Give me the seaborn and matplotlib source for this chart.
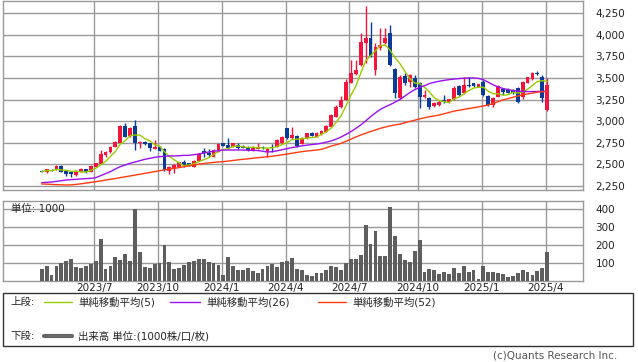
import numpy as np
import pandas as pd
import matplotlib
matplotlib.use("Agg")
from matplotlib import pyplot as plt
from matplotlib.patches import Rectangle
from matplotlib.lines import Line2D
from matplotlib.ticker import FuncFormatter
import seaborn as sns

# weekly candles, 2023/4 - 2025/4
dates = pd.date_range("2023-04-17", periods=104, freq="W-MON")

opens = [2420, 2405, 2432, 2432, 2482, 2424, 2410, 2374, 2413, 2440,
         2413, 2471, 2502, 2606, 2637, 2703, 2749, 2943, 2827, 2943,
         2741, 2761, 2741, 2676, 2703, 2676, 2424, 2451, 2471, 2521,
         2510, 2471, 2540, 2656, 2625, 2587, 2645, 2741, 2722, 2703,
         2722, 2711, 2703, 2656, 2676, 2703, 2637, 2703, 2703, 2741,
         2916, 2800, 2830, 2734, 2800, 2858, 2819, 2846, 2877, 2935,
         3051, 3159, 3244, 3445, 3546, 3650, 3902, 3960, 3592, 3844,
         3902, 4018, 3600, 3264, 3523, 3457, 3500, 3438, 3275, 3264,
         3175, 3186, 3244, 3225, 3252, 3407, 3322, 3418, 3438, 3399,
         3457, 3294, 3186, 3283, 3368, 3360, 3360, 3380, 3283, 3445,
         3484, 3561, 3515, 3128]
highs = [2428, 2448, 2440, 2488, 2486, 2430, 2418, 2428, 2450, 2448,
         2488, 2515, 2664, 2656, 2712, 2770, 2950, 2981, 2930, 3012,
         2770, 2770, 2748, 2780, 2712, 2685, 2478, 2498, 2530, 2548,
         2518, 2548, 2630, 2683, 2672, 2672, 2740, 2750, 2807, 2750,
         2750, 2725, 2712, 2712, 2741, 2712, 2683, 2734, 2790, 2830,
         2925, 2935, 2840, 2810, 2865, 2877, 2872, 2892, 2950, 3078,
         3185, 3290, 3484, 3708, 3708, 4018, 4335, 4153, 3900, 4076,
         4076, 4114, 3610, 3530, 3560, 3545, 3530, 3450, 3360, 3275,
         3220, 3240, 3302, 3260, 3410, 3415, 3515, 3515, 3445, 3435,
         3480, 3300, 3275, 3420, 3380, 3380, 3370, 3390, 3465, 3515,
         3570, 3584, 3530, 3495]
lows = [2405, 2400, 2415, 2428, 2408, 2363, 2347, 2368, 2405, 2398,
        2408, 2465, 2498, 2579, 2630, 2700, 2745, 2810, 2820, 2664,
        2691, 2725, 2656, 2670, 2650, 2425, 2386, 2401, 2465, 2471,
        2475, 2465, 2535, 2579, 2587, 2580, 2640, 2705, 2676, 2695,
        2676, 2683, 2656, 2650, 2670, 2676, 2579, 2645, 2695, 2734,
        2795, 2795, 2703, 2728, 2795, 2825, 2815, 2840, 2870, 2930,
        3045, 3150, 3240, 3440, 3540, 3640, 3670, 3740, 3534, 3830,
        3890, 3640, 3271, 3258, 3420, 3400, 3380, 3150, 3265, 3140,
        3165, 3170, 3215, 3215, 3245, 3290, 3315, 3391, 3400, 3395,
        3295, 3175, 3160, 3275, 3300, 3320, 3315, 3205, 3260, 3440,
        3475, 3540, 3225, 3120]
closes = [2412, 2440, 2421, 2482, 2413, 2386, 2386, 2424, 2440, 2405,
          2482, 2510, 2618, 2637, 2703, 2761, 2943, 2819, 2923, 2741,
          2761, 2734, 2691, 2703, 2656, 2432, 2471, 2490, 2521, 2490,
          2482, 2540, 2618, 2625, 2606, 2664, 2734, 2711, 2683, 2741,
          2683, 2691, 2664, 2703, 2703, 2683, 2676, 2683, 2780, 2819,
          2800, 2838, 2714, 2800, 2858, 2830, 2865, 2885, 2943, 3070,
          3167, 3244, 3457, 3561, 3592, 3921, 3960, 3747, 3863, 3882,
          3960, 3650, 3322, 3515, 3438, 3534, 3400, 3283, 3302, 3165,
          3205, 3225, 3225, 3252, 3380, 3302, 3418, 3407, 3407, 3426,
          3302, 3186, 3264, 3407, 3341, 3329, 3322, 3225, 3457, 3507,
          3561, 3546, 3271, 3418]

ma26 = [2285, 2289, 2293, 2300, 2308, 2316, 2320, 2324, 2328, 2332,
        2335, 2343, 2366, 2390, 2413, 2444, 2471, 2490, 2510, 2525,
        2540, 2556, 2567, 2579, 2587, 2591, 2595, 2595, 2598, 2602,
        2602, 2610, 2618, 2629, 2641, 2649, 2656, 2664, 2664, 2664,
        2664, 2664, 2662, 2660, 2658, 2650, 2640, 2645, 2655, 2668,
        2680, 2692, 2702, 2712, 2720, 2727, 2733, 2742, 2755, 2770,
        2790, 2815, 2845, 2877, 2915, 2955, 3000, 3050, 3095, 3135,
        3165, 3190, 3220, 3250, 3290, 3330, 3365, 3390, 3410, 3435,
        3450, 3462, 3472, 3480, 3487, 3493, 3497, 3500, 3500, 3495,
        3480, 3450, 3420, 3395, 3378, 3365, 3355, 3348, 3343, 3342,
        3342, 3343, 3345, 3345]
ma52 = [2270, 2268, 2265, 2262, 2260, 2258, 2260, 2265, 2272, 2280,
        2288, 2297, 2305, 2315, 2324, 2333, 2343, 2353, 2363, 2373,
        2383, 2393, 2403, 2413, 2424, 2433, 2442, 2451, 2460, 2470,
        2480, 2490, 2500, 2507, 2514, 2520, 2525, 2529, 2536, 2543,
        2550, 2556, 2562, 2568, 2575, 2580, 2585, 2592, 2600, 2608,
        2618, 2627, 2636, 2645, 2652, 2658, 2664, 2672, 2690, 2710,
        2725, 2741, 2765, 2790, 2815, 2838, 2858, 2878, 2897, 2916,
        2930, 2945, 2955, 2965, 2980, 2995, 3010, 3025, 3038, 3051,
        3060, 3070, 3085, 3100, 3115, 3125, 3135, 3145, 3155, 3165,
        3175, 3186, 3205, 3225, 3245, 3260, 3275, 3290, 3305, 3315,
        3325, 3335, 3340, 3345]

# volume in 1000 shares
volume = [64, 80, 30, 80, 99, 108, 120, 75, 69, 80,
          92, 108, 232, 64, 80, 131, 114, 148, 108, 400,
          159, 75, 69, 92, 97, 200, 103, 64, 69, 86,
          103, 108, 120, 120, 103, 97, 86, 30, 131, 80,
          58, 58, 69, 52, 41, 64, 80, 92, 75, 103,
          108, 125, 64, 58, 30, 24, 41, 41, 58, 80,
          75, 58, 99, 120, 120, 142, 310, 202, 277, 136,
          136, 411, 249, 148, 114, 103, 164, 226, 47, 64,
          58, 36, 47, 36, 69, 41, 80, 47, 58, 7,
          80, 47, 47, 41, 36, 19, 24, 41, 58, 47,
          30, 52, 69, 159]

tick_months = ["2023/7", "2023/10", "2024/1", "2024/4",
               "2024/7", "2024/10", "2025/1", "2025/4"]

sns.set_style("white")
plt.rcParams["font.family"] = ["DejaVu Sans", "Noto Sans CJK JP"]
plt.rcParams["font.size"] = 7.5

RED = "#F5143C"
BLUE = "#0C3A98"
GRID = "#9A9A9A"

df = pd.DataFrame({"date": dates, "open": opens, "high": highs,
                   "low": lows, "close": closes, "vol": volume,
                   "ma26": ma26, "ma52": ma52})
df["i"] = np.arange(len(df))
df["ma5"] = df["close"].rolling(5, min_periods=1).mean()
up = df["close"] >= df["open"]
cols = np.where(up, RED, BLUE)

# gridline positions: first week of each labelled month
tick_pos = []
for t in tick_months:
    y, m = map(int, t.split("/"))
    k = df.index[(df["date"].dt.year == y) & (df["date"].dt.month == m)][0]
    tick_pos.append(k - 0.3)

W, H = 638, 362
fig = plt.figure(figsize=(W / 100, H / 100), dpi=100)
ax = fig.add_axes([3 / W, 1 - 190 / H, 580 / W, 189 / H])
axv = fig.add_axes([3 / W, 1 - 280.5 / H, 580 / W, 79.5 / H])

# price panel
ax.vlines(df["i"], df["low"], df["high"], colors=cols, lw=1, zorder=3)
body = (df["close"] - df["open"]).abs().clip(lower=6)
ax.bar(df["i"], body, bottom=df[["open", "close"]].min(axis=1), width=0.78,
       color=cols, linewidth=0, zorder=3)
sns.lineplot(data=df, x="i", y="ma5", color="#99CC00", lw=1, ax=ax, legend=False, zorder=4)
sns.lineplot(data=df, x="i", y="ma26", color="#9B10F0", lw=1, ax=ax, legend=False, zorder=4)
sns.lineplot(data=df, x="i", y="ma52", color="#FF3A10", lw=1, ax=ax, legend=False, zorder=4)
ax.set_ylim(2200, 4393)
ax.set_yticks(np.arange(2250, 4251, 250))
ax.yaxis.set_major_formatter(FuncFormatter(lambda v, p: f"{int(v):,}"))

# volume panel
sns.barplot(data=df, x="i", y="vol", color="#5E5E5E", saturation=1, width=0.78,
            errorbar=None, ax=axv, zorder=3, edgecolor="none", linewidth=0)
axv.set_ylim(0, 445)
axv.set_yticks([100, 200, 300, 400])
axv.text(8 / 580, 400, "単位: 1000", transform=axv.get_yaxis_transform(),
         va="center", ha="left", fontsize=7.5, zorder=2)

for a in (ax, axv):
    a.set_xlim(-7.9, 110.3)
    a.set_xticks(tick_pos)
    a.grid(True, color=GRID, lw=1)
    a.set_axisbelow(True)
    a.yaxis.tick_right()
    a.tick_params(length=0, pad=9, labelsize=7.5, colors="#222222")
    a.set_xlabel("")
    a.set_ylabel("")
    for s in a.spines.values():
        s.set_color(GRID)
        s.set_linewidth(1)
ax.set_xticklabels([])
axv.set_xticklabels(tick_months)
axv.tick_params(axis="x", pad=2)


def fx(x):
    return x / W


def fy(y):
    return 1 - y / H


# legend box
fig.add_artist(Rectangle((fx(3), fy(346)), fx(630), 53 / H, fill=False,
                         edgecolor="#333333", lw=1))
fig.text(fx(10), fy(302), "上段:", va="center", fontsize=7.5)
fig.text(fx(10), fy(336), "下段:", va="center", fontsize=7.5)
legend_items = [(44, 72, "#99CC00", "単純移動平均(5)"),
                (170, 200, "#9B10F0", "単純移動平均(26)"),
                (318, 346, "#FF3A10", "単純移動平均(52)")]
for x0, x1, c, label in legend_items:
    fig.add_artist(Line2D([fx(x0), fx(x1)], [fy(302), fy(302)], color=c, lw=1))
    fig.text(fx(x1 + 6), fy(302), label, va="center", fontsize=7.5)
fig.add_artist(Line2D([fx(44), fx(72)], [fy(336), fy(336)], color="#666666", lw=3))
fig.text(fx(78), fy(336), "出来高 単位:(1000株/口/枚)", va="center", fontsize=7.5)

fig.text(fx(617), fy(356), "(c)Quants Research Inc.", ha="right", va="center",
         fontsize=7.5, color="#555555")

fig.savefig("out.png", dpi=100)
